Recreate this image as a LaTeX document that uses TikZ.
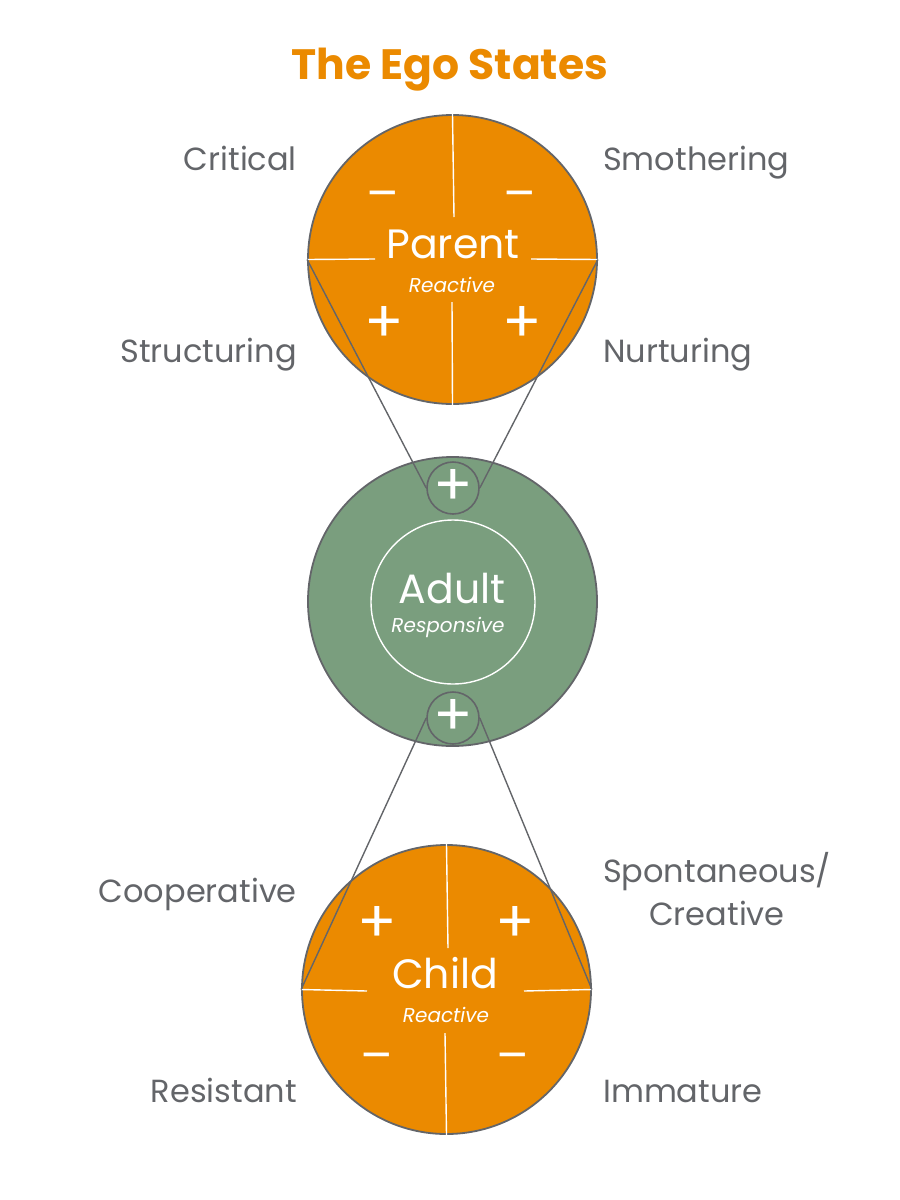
\documentclass[tikz,border=0pt]{standalone}
\usepackage{fontspec}
\setmainfont{Poppins}
\usetikzlibrary{positioning}
\definecolor{egoorange}{HTML}{EB8A00}
\definecolor{egogreen}{HTML}{7A9E7E}
\definecolor{egogray}{HTML}{636569}

\begin{document}
\begin{tikzpicture}[x=1pt,y=-1pt,every node/.style={inner sep=0pt},
  state/.style={circle,draw=egogray,line width=1.8pt,fill=egoorange,minimum size=289pt},
  knob/.style={circle,draw=egogray,line width=1.6pt,fill=egogreen,minimum size=52pt},
  divider/.style={draw=white,line width=1.4pt},
  link/.style={draw=egogray,line width=1.4pt},
  side/.style={text=egogray,font=\fontsize{32}{43}\selectfont},
  sign/.style={text=white,font=\fontsize{58}{58}\selectfont},
  minus/.style={text=white,font=\fontsize{48}{48}\selectfont},
  big/.style={text=white,font=\fontsize{41}{44}\selectfont},
  sub/.style={text=white,font=\itshape\fontsize{20}{24}\selectfont}]
\useasboundingbox (0,0) rectangle (900,1200);
\node[text=egoorange,font=\bfseries\fontsize{42.5}{50}\selectfont,anchor=base] (title) at (450,79) {The Ego States};
% the three states
\node[state] (parent) at (452.5,259.5) {};
\node[state,fill=egogreen] (adult) at (452.5,601.5) {};
\node[circle,draw=white,line width=1.4pt,minimum size=164pt] (adultcore) at (453,602) {};
\node[knob] (knobtop) at (453,488) {};
\node[knob] (knobbot) at (453,718) {};
\node[state] (child) at (446.5,989.5) {};
% parent quarters
\draw[divider] (parent.north) -- (454,217);
\draw[divider] (452,302) -- (parent.south);
\draw[divider] (parent.west) -- (375,259);
\draw[divider] (531,259) -- (parent.east);
% child quarters
\draw[divider] (child.north) -- (448,948);
\draw[divider] (445,1033) -- (child.south);
\draw[divider] (child.west) -- (367,991);
\draw[divider] (524,991) -- (child.east);
% links
\draw[link] (parent.west) -- (knobtop.west);
\draw[link] (parent.east) -- (knobtop.east);
\draw[link] (knobbot.west) -- (child.west);
\draw[link] (knobbot.east) -- (child.east);
% names
\node[big,anchor=base] (pname) at (453,258) {Parent};
\node[sub,anchor=base] (pmode) at (452,292) {Reactive};
\node[big,anchor=base] (aname) at (452,603) {Adult};
\node[sub,anchor=base] (amode) at (448,632) {Responsive};
\node[big,anchor=base] (cname) at (445,988) {Child};
\node[sub,anchor=base] (cmode) at (446,1022) {Reactive};
% signs
\node[minus] (pm1) at (383,201) {–};
\node[minus] (pm2) at (520,201) {–};
\node[sign] (pp1) at (384,324) {+};
\node[sign] (pp2) at (522,324) {+};
\node[sign] (cp1) at (377,924) {+};
\node[sign] (cp2) at (515,924) {+};
\node[minus] (cm1) at (377,1063) {–};
\node[minus] (cm2) at (513,1063) {–};
\node[sign] (ktop) at (453,487) {+};
\node[sign] (kbot) at (453,717) {+};
% side labels
\node[side,anchor=base east] (critical) at (297,170) {Critical};
\node[side,anchor=base east] (structuring) at (297,362) {Structuring};
\node[side,anchor=base west] (smothering) at (603,170) {Smothering};
\node[side,anchor=base west] (nurturing) at (603,362) {Nurturing};
\node[side,anchor=base east] (cooperative) at (297,902) {Cooperative};
\node[side,anchor=base east] (resistant) at (297,1102) {Resistant};
\node[side,align=center,anchor=north] (spontaneous) at (717,852) {Spontaneous/\\Creative};
\node[side,anchor=base west] (immature) at (603,1102) {Immature};
\end{tikzpicture}
\end{document}
